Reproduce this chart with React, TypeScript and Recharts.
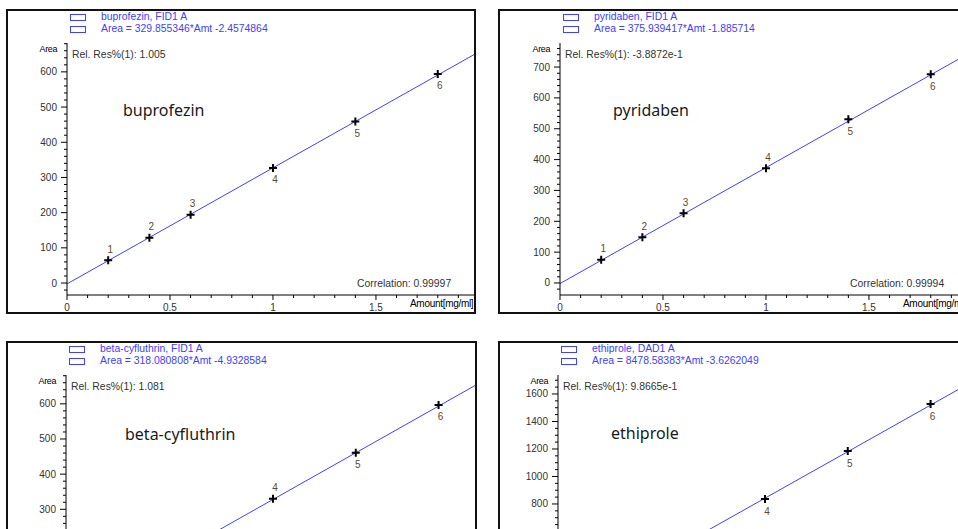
import React from "react";
import { ComposedChart, XAxis, YAxis, Line, Scatter } from "recharts";

// calibration points (amount, area)
const pointIds = [1, 2, 3, 4, 5, 6];

const buprofezinAmt = [0.2, 0.4, 0.6, 1.0, 1.4, 1.8];
const buprofezinArea = [65, 129, 194, 327, 459, 594];
const buprofezinFitAmt = [0, 1.976];
const buprofezinFitArea = [-2.5, 649];

const pyridabenAmt = [0.2, 0.4, 0.6, 1.0, 1.4, 1.8];
const pyridabenArea = [75, 148, 226, 372, 531, 677];
const pyridabenFitAmt = [0, 1.976];
const pyridabenFitArea = [-1.9, 741];

// bottom row is cut off by the picture edge, only points 4-6 show
const betaAmt = [1.0, 1.4, 1.8];
const betaArea = [330, 461, 597];
const betaIds = [4, 5, 6];
const betaFitAmt = [0, 1.976];
const betaFitArea = [-4, 652];

const ethiproleAmt = [0.1, 0.14, 0.18];
const ethiproleArea = [836, 1185, 1527];
const ethiproleIds = [4, 5, 6];
const ethiproleFitAmt = [0, 0.1976];
const ethiproleFitArea = [-4, 1668];

const SMALL = "'Liberation Sans', Arial, sans-serif";
const BLUE = "#4040ff";

type PanelCfg = {
  box: { left: number; top: number; width: number; height: number };
  plot: { left: number; top: number; width: number; height: number };
  cropped?: boolean;
  title: string;
  equation: string;
  relRes: string;
  correlation: string;
  name: string;
  nameX: number;
  nameY: number;
  amt: number[];
  area: number[];
  ids: number[];
  labelsAbove: number;
  fitAmt: number[];
  fitArea: number[];
  xMax: number;
  xStep: number;
  yDomain: [number, number];
  yMinor: number;
  yMajor: number;
};

const fmt = (v: number) => String(Number(v.toFixed(4)));

function Plus(props: any) {
  const { cx, cy, payload, above } = props;
  if (cx == null || cy == null) return null;
  const up = payload.id <= above;
  return (
    <g>
      <path d={`M${cx - 4},${cy}H${cx + 4}M${cx},${cy - 4}V${cy + 4}`} stroke="#000" strokeWidth={2} />
      <text x={cx + 2} y={up ? cy - 11 : cy + 12} textAnchor="middle" dominantBaseline="central"
        fontSize={10} fontFamily={SMALL} fill="#5a4a30">{payload.id}</text>
    </g>
  );
}

function Panel({ c }: { c: PanelCfg }) {
  const { box, plot } = c;
  const yw = plot.left - box.left;
  const mt = plot.top - box.top;
  const mr = box.width - yw - plot.width;
  const xh = box.height - mt - plot.height;

  const pts = c.amt.map((x, i) => ({ x, y: c.area[i], id: c.ids[i] }));
  const fit = c.fitAmt.map((x, i) => ({ x, y: c.fitArea[i] }));

  const nx = Math.floor(c.xMax / c.xStep + 1e-9);
  const xTicks = Array.from({ length: nx + 1 }, (_, i) => Number((i * c.xStep).toFixed(4)));
  const y0 = Math.ceil(c.yDomain[0] / c.yMinor) * c.yMinor;
  const ny = Math.floor((c.yDomain[1] - y0) / c.yMinor);
  const yTicks = Array.from({ length: ny + 1 }, (_, i) => y0 + i * c.yMinor);

  const xTick = (p: any) => {
    const i = Math.round(p.payload.value / c.xStep);
    const major = i % 5 === 0;
    return (
      <g>
        <line x1={p.x} x2={p.x} y1={p.y} y2={p.y + (major ? 5 : 3)} stroke="#000" />
        {major && (
          <text x={p.x} y={p.y + 12} textAnchor="middle" dominantBaseline="central"
            fontSize={10} fontFamily={SMALL} fill="#333">{fmt(p.payload.value)}</text>
        )}
      </g>
    );
  };
  const yTick = (p: any) => {
    const v = p.payload.value;
    const major = v >= 0 && Math.abs(v % c.yMajor) < 1e-6;
    return (
      <g>
        <line x1={p.x - (major ? 6 : 3)} x2={p.x} y1={p.y} y2={p.y} stroke="#000" />
        {major && (
          <text x={p.x - 10} y={p.y} textAnchor="end" dominantBaseline="central"
            fontSize={10} fontFamily={SMALL} fill="#333">{fmt(v)}</text>
        )}
      </g>
    );
  };

  const pl = yw;
  const pt = mt;
  const txt = (style: React.CSSProperties, s: string) => (
    <div style={{ position: "absolute", whiteSpace: "nowrap", lineHeight: 1, transform: "translateY(-50%)", ...style }}>{s}</div>
  );

  return (
    <div style={{ position: "absolute", left: box.left, top: box.top, width: box.width, height: box.height }}>
      <ComposedChart width={box.width} height={box.height} margin={{ top: mt, right: mr, bottom: 0, left: 0 }}>
        <XAxis dataKey="x" type="number" domain={[0, c.xMax]} allowDataOverflow ticks={xTicks} interval={0}
          tick={xTick} tickLine={false} tickSize={0} tickMargin={0} height={xh} hide={c.cropped}
          axisLine={{ stroke: "#000" }} />
        <YAxis dataKey="y" type="number" domain={c.yDomain} allowDataOverflow ticks={yTicks} interval={0}
          tick={yTick} tickLine={false} tickSize={0} tickMargin={0} width={yw}
          axisLine={{ stroke: "#000" }} />
        <Line data={fit} dataKey="y" stroke={BLUE} strokeWidth={1} dot={false} activeDot={false}
          isAnimationActive={false} />
        <Scatter data={pts} dataKey="y" isAnimationActive={false}
          shape={(p: any) => <Plus {...p} above={c.labelsAbove} />} />
      </ComposedChart>
      <div style={{ position: "absolute", left: 0, top: 0, width: box.width, height: box.height,
        border: "2px solid #111", borderBottom: c.cropped ? "none" : "2px solid #111",
        boxSizing: "border-box", pointerEvents: "none" }} />
      <div style={{ position: "absolute", left: pl + 3, top: 5, width: 16, height: 7, border: `1px solid ${BLUE}`, boxSizing: "border-box" }} />
      <div style={{ position: "absolute", left: pl + 3, top: 17, width: 16, height: 7, border: `1px solid ${BLUE}`, boxSizing: "border-box" }} />
      {txt({ left: pl + 34, top: 8, fontSize: 10.4, fontFamily: SMALL, color: BLUE }, c.title)}
      {txt({ left: pl + 34, top: 20, fontSize: 10.4, fontFamily: SMALL, color: BLUE }, c.equation)}
      {txt({ right: box.width - pl + 10, top: pt + 6, fontSize: 9, fontFamily: SMALL, color: "#000", letterSpacing: -0.4 }, "Area")}
      {txt({ left: pl + 5, top: pt + 12, fontSize: 10.4, fontFamily: SMALL, color: "#333" }, c.relRes)}
      {txt({ left: c.nameX, top: c.nameY, fontSize: 16, fontFamily: "'Noto Sans', sans-serif", color: "#1a1a1a" }, c.name)}
      {!c.cropped && txt({ left: pl + 290, top: pt + 241, fontSize: 10.4, fontFamily: SMALL, color: "#333" }, c.correlation)}
      {!c.cropped && txt({ left: pl + plot.width - 64, top: pt + plot.height + 9, fontSize: 10, fontFamily: SMALL, color: "#000", letterSpacing: -0.3 }, "Amount[mg/ml]")}
    </div>
  );
}

const panels: PanelCfg[] = [
  {
    box: { left: 6, top: 9, width: 470, height: 305 },
    plot: { left: 67, top: 43, width: 407, height: 252 },
    title: "buprofezin, FID1 A",
    equation: "Area = 329.855346*Amt -2.4574864",
    relRes: "Rel. Res%(1): 1.005",
    correlation: "Correlation: 0.99997",
    name: "buprofezin", nameX: 117, nameY: 101,
    amt: buprofezinAmt, area: buprofezinArea, ids: pointIds, labelsAbove: 3,
    fitAmt: buprofezinFitAmt, fitArea: buprofezinFitArea,
    xMax: 1.976, xStep: 0.1, yDomain: [-34, 682], yMinor: 20, yMajor: 100,
  },
  {
    box: { left: 498, top: 9, width: 471, height: 305 },
    plot: { left: 560, top: 43, width: 407, height: 252 },
    title: "pyridaben, FID1 A",
    equation: "Area = 375.939417*Amt -1.885714",
    relRes: "Rel. Res%(1): -3.8872e-1",
    correlation: "Correlation: 0.99994",
    name: "pyridaben", nameX: 115, nameY: 101,
    amt: pyridabenAmt, area: pyridabenArea, ids: pointIds, labelsAbove: 4,
    fitAmt: pyridabenFitAmt, fitArea: pyridabenFitArea,
    xMax: 1.976, xStep: 0.1, yDomain: [-39, 778], yMinor: 20, yMajor: 100,
  },
  {
    // only the upper part is inside the picture
    box: { left: 6, top: 341, width: 471, height: 188 },
    plot: { left: 66, top: 375, width: 409, height: 154 },
    cropped: true,
    title: "beta-cyfluthrin, FID1 A",
    equation: "Area = 318.080808*Amt -4.9328584",
    relRes: "Rel. Res%(1): 1.081",
    correlation: "",
    name: "beta-cyfluthrin", nameX: 119, nameY: 93,
    amt: betaAmt, area: betaArea, ids: betaIds, labelsAbove: 4,
    fitAmt: betaFitAmt, fitArea: betaFitArea,
    xMax: 1.976, xStep: 0.1, yDomain: [244, 682], yMinor: 20, yMajor: 100,
  },
  {
    box: { left: 498, top: 341, width: 471, height: 188 },
    plot: { left: 558, top: 375, width: 409, height: 154 },
    cropped: true,
    title: "ethiprole, DAD1 A",
    equation: "Area = 8478.58383*Amt -3.6262049",
    relRes: "Rel. Res%(1): 9.8665e-1",
    correlation: "",
    name: "ethiprole", nameX: 113, nameY: 92,
    amt: ethiproleAmt, area: ethiproleArea, ids: ethiproleIds, labelsAbove: 0,
    fitAmt: ethiproleFitAmt, fitArea: ethiproleFitArea,
    xMax: 0.1976, xStep: 0.01, yDomain: [618, 1738], yMinor: 50, yMajor: 200,
  },
];

export default function App() {
  return (
    <div style={{ position: "absolute", left: 0, top: 0, width: 958, height: 529, overflow: "hidden", background: "#fff" }}>
      {panels.map((c) => (
        <Panel key={c.title} c={c} />
      ))}
    </div>
  );
}
